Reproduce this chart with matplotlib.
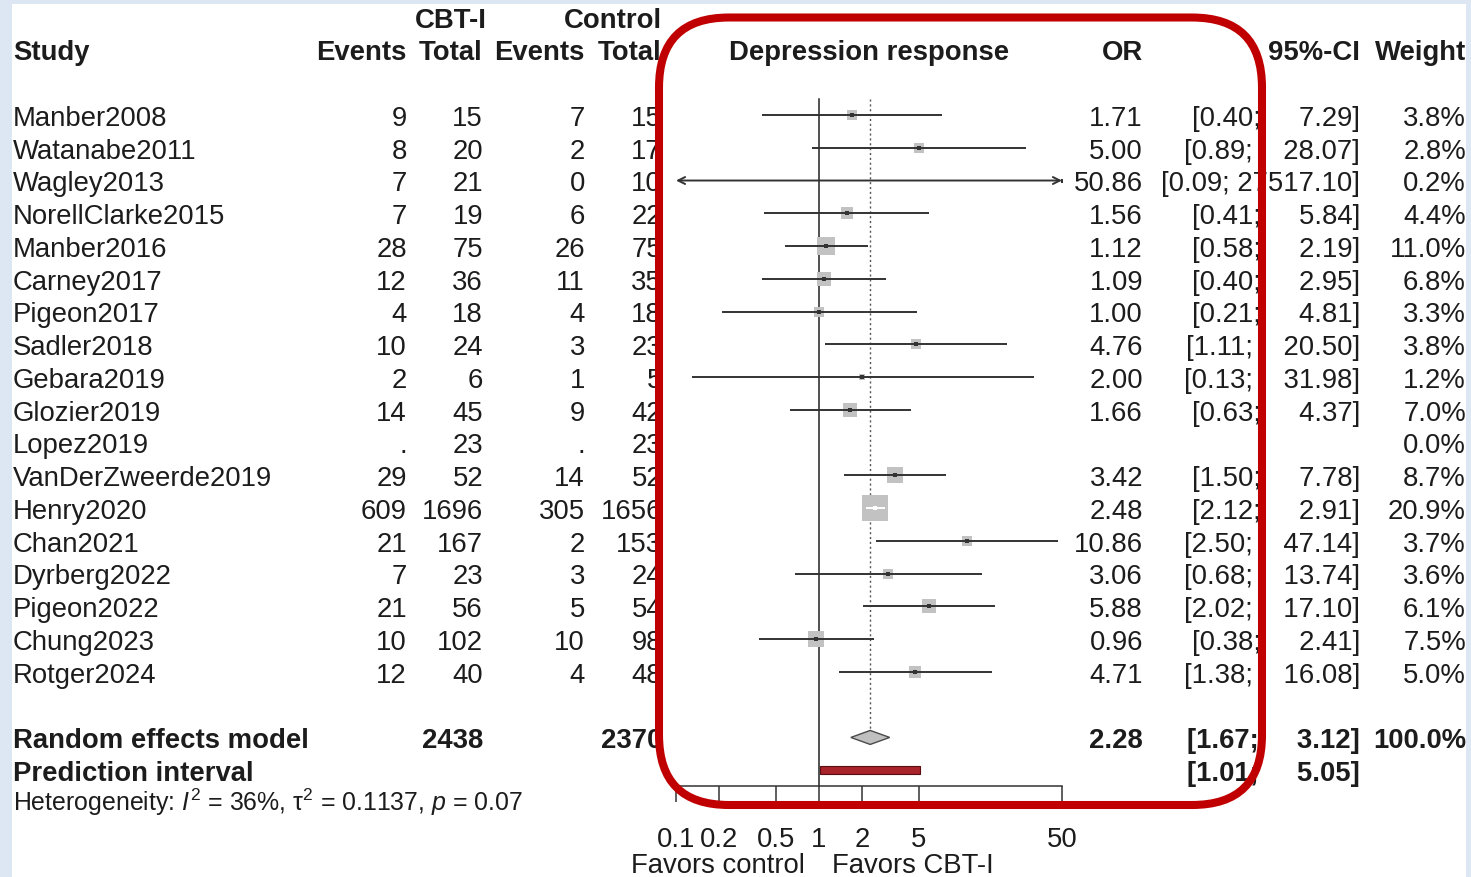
import numpy as np
import matplotlib
matplotlib.use("Agg")
import matplotlib.pyplot as plt
from matplotlib.patches import FancyBboxPatch, Rectangle, Polygon
from matplotlib.transforms import blended_transform_factory

plt.rcParams["font.family"] = ["Liberation Sans", "DejaVu Sans"]
plt.rcParams["mathtext.fontset"] = "custom"
plt.rcParams["mathtext.rm"] = "Liberation Sans"
plt.rcParams["mathtext.it"] = "Liberation Sans:italic"
plt.rcParams["mathtext.bf"] = "Liberation Sans:bold"

# study data
studies = ["Manber2008", "Watanabe2011", "Wagley2013", "NorellClarke2015", "Manber2016",
           "Carney2017", "Pigeon2017", "Sadler2018", "Gebara2019", "Glozier2019",
           "Lopez2019", "VanDerZweerde2019", "Henry2020", "Chan2021", "Dyrberg2022",
           "Pigeon2022", "Chung2023", "Rotger2024"]
cbt_events = [9, 8, 7, 7, 28, 12, 4, 10, 2, 14, None, 29, 609, 21, 7, 21, 10, 12]
cbt_total = [15, 20, 21, 19, 75, 36, 18, 24, 6, 45, 23, 52, 1696, 167, 23, 56, 102, 40]
ctl_events = [7, 2, 0, 6, 26, 11, 4, 3, 1, 9, None, 14, 305, 2, 3, 5, 10, 4]
ctl_total = [15, 17, 10, 22, 75, 35, 18, 23, 5, 42, 23, 52, 1656, 153, 24, 54, 98, 48]
odds = [1.71, 5.00, 50.86, 1.56, 1.12, 1.09, 1.00, 4.76, 2.00, 1.66, None, 3.42,
        2.48, 10.86, 3.06, 5.88, 0.96, 4.71]
ci_low = [0.40, 0.89, 0.09, 0.41, 0.58, 0.40, 0.21, 1.11, 0.13, 0.63, None, 1.50,
          2.12, 2.50, 0.68, 2.02, 0.38, 1.38]
ci_high = [7.29, 28.07, 27517.10, 5.84, 2.19, 2.95, 4.81, 20.50, 31.98, 4.37, None,
           7.78, 2.91, 47.14, 13.74, 17.10, 2.41, 16.08]
weights = [3.8, 2.8, 0.2, 4.4, 11.0, 6.8, 3.3, 3.8, 1.2, 7.0, 0.0, 8.7, 20.9, 3.7,
           3.6, 6.1, 7.5, 5.0]

re_or, re_low, re_high = 2.28, 1.67, 3.12
pi_low, pi_high = 1.01, 5.05
re_cbt_total, re_ctl_total = 2438, 2370
ticks = [0.1, 0.2, 0.5, 1, 2, 5, 50]
tick_labels = ["0.1", "0.2", "0.5", "1", "2", "5", "50"]

W, H = 1471, 878
ROW0, ROWH = 116, 32.76
FS = 19.8
TXT = "#1c1c1c"
BASE = 0.3

fig = plt.figure(figsize=(W / 100, H / 100), dpi=100)
fig.patch.set_facecolor("#dde7f4")

# background slide area
bg = fig.add_axes([0, 0, 1, 1], zorder=0)
bg.set_xlim(0, W)
bg.set_ylim(H, 0)
bg.axis("off")
bg.add_patch(Rectangle((12, 5), 1454, 880, facecolor="white", edgecolor="none"))

# forest axes: log OR horizontally, rows vertically
ax = fig.add_axes([676 / W, 0, 386 / W, 1], zorder=1)
ax.set_xscale("log")
ax.set_xlim(0.1, 50)
ax.set_ylim((H - ROW0) / ROWH, -ROW0 / ROWH)
ax.axis("off")
ax.patch.set_alpha(0)

tr = blended_transform_factory(bg.transData, ax.transData)


def txt(x, row, s, ha="right", bold=False, size=FS):
    ax.text(x, row + BASE * size / FS, s, transform=tr, ha=ha, va="baseline",
            fontsize=size, fontweight="bold" if bold else "normal", color=TXT,
            clip_on=False)


# headers
txt(487, -3, "CBT-I", bold=True)
txt(662, -3, "Control", bold=True)
txt(13, -2, "Study", ha="left", bold=True)
txt(407, -2, "Events", bold=True)
txt(483, -2, "Total", bold=True)
txt(585, -2, "Events", bold=True)
txt(662, -2, "Total", bold=True)
txt(869, -2, "Depression response", ha="center", bold=True)
txt(1143, -2, "OR", bold=True)
txt(1360, -2, "95%-CI", bold=True)
txt(1466, -2, "Weight", bold=True)

px_per_dec = 386 / np.log10(500)
wl = max(len(f"{v:.2f}") for v in ci_low if v is not None)
wu = max(len(f"{v:.2f}") for v in ci_high if v is not None)


def ci_text(lo, hi):
    return f"[{lo:.2f}".rjust(wl + 1) + "; " + f"{hi:.2f}".rjust(wu) + "]"


for i, name in enumerate(studies):
    txt(13, i, name, ha="left")
    txt(407, i, "." if cbt_events[i] is None else str(cbt_events[i]))
    txt(483, i, str(cbt_total[i]))
    txt(585, i, "." if ctl_events[i] is None else str(ctl_events[i]))
    txt(662, i, str(ctl_total[i]))
    txt(1466, i, f"{weights[i]:.1f}%")
    if odds[i] is None:
        continue
    txt(1143, i, f"{odds[i]:.2f}")
    txt(1360, i, ci_text(ci_low[i], ci_high[i]))

    side = 5.6 * np.sqrt(weights[i])
    ax.scatter([odds[i]], [i], marker="s", s=(side * 0.72) ** 2, color="#c2c2c2",
               linewidths=0, zorder=2)
    half = side / 2 / px_per_dec
    inside = (np.log10(ci_high[i]) - np.log10(odds[i]) < half and
              np.log10(odds[i]) - np.log10(ci_low[i]) < half)
    col = "white" if inside else "#333333"
    lo_c, hi_c = max(ci_low[i], 0.1), min(ci_high[i], 50)
    style = ("<" if ci_low[i] < 0.1 else "") + "-" + (">" if ci_high[i] > 50 else "")
    if style == "-":
        ax.plot([lo_c, hi_c], [i, i], color=col, lw=1.4, zorder=3, solid_capstyle="butt")
    else:
        ax.annotate("", xy=(hi_c, i), xytext=(lo_c, i), annotation_clip=False,
                    arrowprops=dict(arrowstyle=style + ",head_length=0.5,head_width=0.25",
                                    color=col, lw=1.4, shrinkA=0, shrinkB=0), zorder=3)
    ax.scatter([odds[i]], [i], marker="s", s=10, color=col, linewidths=0, zorder=4)

# pooled estimate
RE_ROW, PI_ROW, HET_ROW = 19, 20, 20.95
txt(13, RE_ROW, "Random effects model", ha="left", bold=True)
txt(483, RE_ROW, str(re_cbt_total), bold=True)
txt(662, RE_ROW, str(re_ctl_total), bold=True)
txt(1143, RE_ROW, f"{re_or:.2f}", bold=True)
txt(1360, RE_ROW, ci_text(re_low, re_high), bold=True)
txt(1466, RE_ROW, "100.0%", bold=True)
txt(13, PI_ROW, "Prediction interval", ha="left", bold=True)
txt(1360, PI_ROW, ci_text(pi_low, pi_high), bold=True)
txt(13, HET_ROW, r"Heterogeneity: $I^2$ = 36%, τ$^2$ = 0.1137, $p$ = 0.07", ha="left", size=17.9)

dh = 7 / ROWH
ax.add_patch(Polygon([(re_low, RE_ROW), (re_or, RE_ROW - dh), (re_high, RE_ROW),
                      (re_or, RE_ROW + dh)], closed=True, facecolor="#c0c0c0",
                     edgecolor="#4a4a4a", lw=1.0, zorder=3))
ph = 4 / ROWH
ax.add_patch(Rectangle((pi_low, PI_ROW - ph), pi_high - pi_low, 2 * ph,
                       facecolor="#a8232a", edgecolor="#5a0c10", lw=0.8, zorder=3))

# reference lines
top = (100 - ROW0) / ROWH
axis_row = (787 - ROW0) / ROWH
tick_end = (803 - ROW0) / ROWH
ax.plot([1, 1], [top, axis_row], color="#222222", lw=1.1, zorder=1)
ax.plot([re_or, re_or], [top, RE_ROW - dh], color="#555555", lw=1.0,
        linestyle=(0, (1.5, 2)), zorder=1)

# x axis
ax.plot([ticks[0], ticks[-1]], [axis_row, axis_row], color="#333333", lw=1.1, clip_on=False)
ax.vlines(ticks, axis_row, tick_end, color="#333333", lw=1.1, clip_on=False)
for t, lab in zip(ticks, tick_labels):
    ax.text(t, 22 + BASE, lab, ha="center", va="baseline", fontsize=FS, color=TXT,
            clip_on=False)
txt(805, 22.82, "Favors control", ha="right")
txt(832, 22.82, "Favors CBT-I", ha="left")

# highlight box
ov = fig.add_axes([0, 0, 1, 1], zorder=3)
ov.set_xlim(0, W)
ov.set_ylim(H, 0)
ov.axis("off")
ov.patch.set_alpha(0)
ov.add_patch(FancyBboxPatch((659, 18.5), 603, 787.5,
                            boxstyle="round,pad=0,rounding_size=70",
                            facecolor="none", edgecolor="#c00000", lw=5.8))

fig.savefig("out.png", dpi=100, facecolor=fig.get_facecolor())
